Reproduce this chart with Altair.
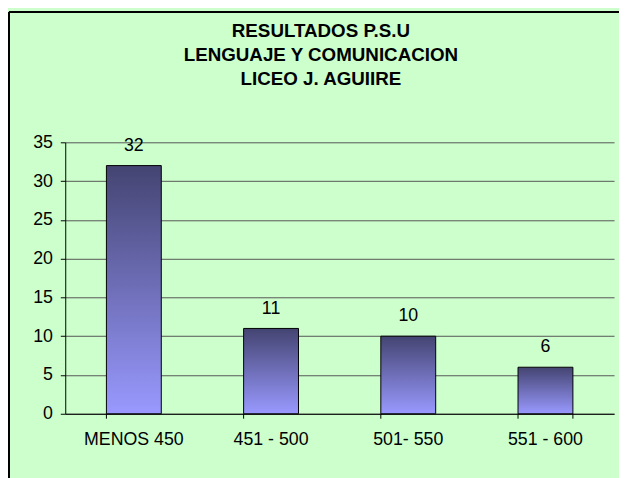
import altair as alt
import pandas as pd

categories = ["MENOS 450", "451 - 500", "501- 550", "551 - 600"]
values = [32, 11, 10, 6]
y_ticks = [0, 5, 10, 15, 20, 25, 30, 35]
title_lines = ["RESULTADOS P.S.U", "LENGUAJE Y COMUNICACION", "LICEO J. AGUIIRE"]

df = pd.DataFrame({"rango": categories, "n": values})

FONT = "Liberation Sans"

x_axis = alt.Axis(title=None, labelAngle=0, ticks=False, labelPadding=17, grid=False)
y_axis = alt.Axis(title=None, values=y_ticks, tickSize=5, labelPadding=8, grid=True)

x_enc = alt.X("rango:N", sort=categories,
              scale=alt.Scale(paddingInner=0.6, paddingOuter=0.3), axis=x_axis)
y_enc = alt.Y("n:Q", scale=alt.Scale(domain=[0, 35], nice=False), axis=y_axis)

grad = alt.Gradient(
    gradient="linear",
    stops=[alt.GradientStop(color="#444472", offset=0),
           alt.GradientStop(color="#9999FF", offset=1)],
    x1=0, x2=0, y1=0, y2=1,
)

base = alt.Chart(df)

bars = base.mark_bar(color=grad, stroke="black", strokeWidth=1).encode(x=x_enc, y=y_enc)

labels = base.mark_text(
    baseline="alphabetic", dy=-15, font=FONT, fontSize=18, color="black"
).encode(x=x_enc, y=y_enc, text="n:Q")

ticks = base.mark_rule(color="black", strokeWidth=1).encode(
    x=alt.X("rango:N", sort=categories, bandPosition=0, axis=x_axis),
    y=alt.value(275), y2=alt.value(280),
)
end_tick = base.transform_filter(
    alt.datum.rango == categories[-1]
).mark_rule(color="black", strokeWidth=1).encode(
    x=alt.X("rango:N", sort=categories, bandPosition=1, axis=x_axis),
    y=alt.value(275), y2=alt.value(280),
)

border_left = base.mark_rule(color="black", strokeWidth=2).encode(
    x=alt.value(-57), y=alt.value(-132), y2=alt.value(400)
)
border_top = base.mark_rule(color="black", strokeWidth=2).encode(
    x=alt.value(-57), x2=alt.value(700), y=alt.value(-132)
)

chart = (
    alt.layer(bars, labels, ticks, end_tick, border_left, border_top)
    .properties(
        width=556, height=275,
        padding={"left": 58, "top": 133, "right": 5, "bottom": 62},
        autosize=alt.AutoSizeParams(type="none"),
        background="#CCFFCC",
        title=alt.Title(
            title_lines, font=FONT, fontSize=19, fontWeight="bold",
            color="black", lineHeight=24.5, anchor="middle", dx=-19, dy=83,
        ),
    )
    .configure_view(stroke=None)
    .configure_axis(
        labelFont=FONT, labelFontSize=18, labelColor="black",
        domainColor="black", domainWidth=1, tickColor="black",
        gridColor="#555555", gridWidth=1, gridOpacity=1,
    )
)

chart.save("out.html", embed_options={"renderer": "svg", "actions": False})
